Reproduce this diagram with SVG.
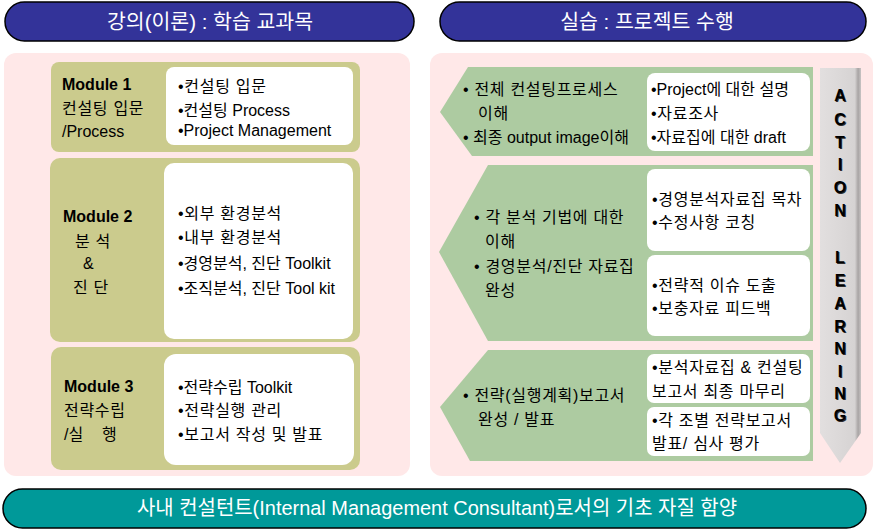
<svg xmlns="http://www.w3.org/2000/svg" width="875" height="530" viewBox="0 0 875 530">
<defs>
<style>
text{font-family:"Liberation Sans","Noto Sans CJK KR",sans-serif;font-size:16px;fill:#000}
.k{letter-spacing:0.7px}
.hd{fill:#fff;font-size:20.5px;text-anchor:middle}
.pill{fill:#333399;stroke:#000;stroke-width:1.5}
.panel{fill:#FFE8E8}
.olive{fill:#CBCB8D}
.wh{fill:#fff}
.grn{fill:#ADCBA1}
.b{font-weight:bold}
.al{font-weight:bold;font-size:15px;text-anchor:middle;fill:#000}
.als{font-weight:bold;font-size:15px;text-anchor:middle;fill:#fff;opacity:0.8}
</style>
<linearGradient id="bar" x1="0" y1="0" x2="1" y2="0">
<stop offset="0" stop-color="#E2DFDF"/>
<stop offset="0.85" stop-color="#D6D3D3"/>
<stop offset="0.93" stop-color="#A8A4A4"/>
<stop offset="1" stop-color="#C8C4C4"/>
</linearGradient>
</defs>

<g id="header-left">
<rect class="pill" x="5" y="2" width="409" height="39" rx="19.5"/>
<text class="hd" x="210" y="29">강의(이론) : 학습 교과목</text>
</g>
<g id="header-right">
<rect class="pill" x="440" y="2" width="426" height="39" rx="19.5"/>
<text class="hd" x="647" y="29">실습 : 프로젝트 수행</text>
</g>

<g id="panel-left"><rect class="panel" x="4" y="53" width="406" height="423" rx="12"/></g>
<g id="panel-right"><rect class="panel" x="430" y="53" width="443" height="423" rx="12"/></g>

<g id="module1">
<rect class="olive" x="51" y="62" width="309" height="90" rx="8"/>
<rect class="wh" x="166" y="67" width="187" height="78" rx="8"/>
<text class="b" x="62" y="90">Module 1</text>
<text class="k" x="62" y="114">컨설팅 입문</text>
<text x="62" y="137">/Process</text>
<text class="k" x="178" y="92">•컨설팅 입문</text>
<text x="178" y="116">•컨설팅 Process</text>
<text x="178" y="136" font-size="15.5">•Project Management</text>
</g>

<g id="module2">
<rect class="olive" x="50" y="158" width="310" height="184" rx="10"/>
<rect class="wh" x="164" y="163" width="189" height="176" rx="10"/>
<text class="b" x="63" y="222">Module 2</text>
<text class="k" x="75" y="247">분 석</text>
<text x="83" y="269">&amp;</text>
<text class="k" x="73" y="293">진 단</text>
<text class="k" x="178" y="219">•외부 환경분석</text>
<text class="k" x="178" y="243">•내부 환경분석</text>
<text x="178" y="269">•경영분석, 진단 Toolkit</text>
<text x="178" y="294">•조직분석, 진단 Tool kit</text>
</g>

<g id="module3">
<rect class="olive" x="51" y="347" width="309" height="123" rx="10"/>
<rect class="wh" x="164" y="354" width="190" height="111" rx="12"/>
<text class="b" x="64" y="392">Module 3</text>
<text class="k" x="64" y="416">전략수립</text>
<text x="64" y="440">/실</text>
<text x="102" y="440">행</text>
<text x="178" y="393">•전략수립 Toolkit</text>
<text class="k" x="178" y="416">•전략실행 관리</text>
<text class="k" x="178" y="440">•보고서 작성 및 발표</text>
</g>

<g id="row1">
<polygon class="grn" points="468,67 813,67 813,156 472,156 440,112"/>
<rect class="wh" x="647" y="73" width="163" height="78" rx="8"/>
<text class="k" x="463" y="95">• 전체 컨설팅프로세스</text>
<text class="k" x="478" y="119">이해</text>
<text x="463" y="143">• 최종 output image이해</text>
<text x="651" y="95">•Project에 대한 설명</text>
<text class="k" x="651" y="119">•자료조사</text>
<text x="651" y="143">•자료집에 대한 draft</text>
</g>

<g id="row2">
<polygon class="grn" points="488,165 813,165 813,341 488,341 439,252"/>
<rect class="wh" x="647" y="169" width="163" height="82" rx="8"/>
<rect class="wh" x="647" y="255" width="163" height="81" rx="8"/>
<text class="k" x="474" y="223">• 각 분석 기법에 대한</text>
<text class="k" x="485" y="247">이해</text>
<text class="k" x="474" y="272">• 경영분석/진단 자료집</text>
<text class="k" x="485" y="296">완성</text>
<text class="k" x="652" y="205">•경영분석자료집 목차</text>
<text class="k" x="652" y="228">•수정사항 코칭</text>
<text class="k" x="652" y="291">•전략적 이슈 도출</text>
<text class="k" x="652" y="314">•보충자료 피드백</text>
</g>

<g id="row3">
<polygon class="grn" points="488,350 813,350 813,461 470,461 440,407"/>
<rect class="wh" x="647" y="354" width="163" height="49" rx="7"/>
<rect class="wh" x="647" y="407" width="163" height="49" rx="7"/>
<text class="k" x="463" y="401">• 전략(실행계획)보고서</text>
<text class="k" x="478" y="425">완성 / 발표</text>
<text class="k" x="652" y="373">•분석자료집 &amp; 컨설팅</text>
<text class="k" x="652" y="397">보고서 최종 마무리</text>
<text class="k" x="652" y="426">•각 조별 전략보고서</text>
<text class="k" x="652" y="449">발표/ 심사 평가</text>
</g>

<g id="action-learning">
<polygon fill="url(#bar)" points="820,68 861,68 861,433 840,463 820,433"/>
<g class="als">
<text x="841" y="102">A</text><text x="841" y="126">C</text><text x="841" y="149">T</text><text x="841" y="171">I</text><text x="841" y="194">O</text><text x="841" y="217">N</text>
<text x="841" y="264">L</text><text x="841" y="287">E</text><text x="841" y="310">A</text><text x="841" y="333">R</text><text x="841" y="355">N</text><text x="841" y="378">I</text><text x="841" y="400">N</text><text x="841" y="422">G</text>
</g>
<g class="al">
<text x="840" y="101">A</text><text x="840" y="125">C</text><text x="840" y="148">T</text><text x="840" y="170">I</text><text x="840" y="193">O</text><text x="840" y="216">N</text>
<text x="840" y="263">L</text><text x="840" y="286">E</text><text x="840" y="309">A</text><text x="840" y="332">R</text><text x="840" y="354">N</text><text x="840" y="377">I</text><text x="840" y="399">N</text><text x="840" y="421">G</text>
</g>
</g>

<g id="footer">
<rect x="3" y="489" width="863" height="39" rx="19.5" fill="#009999" stroke="#000" stroke-width="1.5"/>
<text class="hd" x="437" y="515" textLength="600" lengthAdjust="spacingAndGlyphs">사내 컨설턴트(Internal Management Consultant)로서의 기초 자질 함양</text>
</g>
</svg>
